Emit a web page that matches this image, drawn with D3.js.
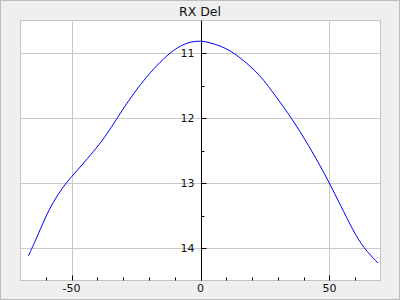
<!DOCTYPE html>
<html>
<head>
<meta charset="utf-8">
<script src="https://cdn.jsdelivr.net/npm/d3@7"></script>
<style>
  body { margin: 0; background: #ffffff; }
  svg { display: block; font-family: "DejaVu Sans", sans-serif; }
</style>
</head>
<body>
<svg></svg>
<script>
// angle (x) and RX Del (y)
const angles = [-66.7, -63.6, -60.3, -57.1, -53.5, -50, -46.1, -41.6, -37.1, -32.3, -28.0, -23.5, -17.7, -13.8, -10.6, -7.3, -4.1, 0,
                3.7, 7.6, 11.4, 15.3, 19.2, 23.1, 25.7, 32.1, 38.6, 45.1, 50, 54.1, 59.3, 63.2, 68.8];
const rxDel = [14.12, 13.85, 13.54, 13.29, 13.07, 12.9, 12.73, 12.52, 12.30, 12.0, 11.74, 11.49, 11.22, 11.07, 10.96, 10.88, 10.83, 10.81,
               10.84, 10.89, 10.96, 11.07, 11.20, 11.35, 11.48, 11.82, 12.20, 12.64, 13.0, 13.33, 13.74, 14.0, 14.23];
const xTicks = [-50, 0, 50];
const xMinorTicks = [-60, -40, -30, -20, -10, 10, 20, 30, 40, 60];
const yTicks = [11, 12, 13, 14];
const yMinorTicks = [11.5, 12.5, 13.5];
const title = "RX Del";

let width = 400;
let height = 300;
let plotLeft = 20.5, plotRight = 380.5, plotTop = 20.5, plotBottom = 280.5;

let svg = d3.select("svg").attr("width", width).attr("height", height);

svg.append("rect")
    .attr("x", 0.5).attr("y", 0.5)
    .attr("width", width - 1).attr("height", height - 1)
    .attr("fill", "#efefef")
    .attr("stroke", "#bdbdbd");

svg.append("text")
    .attr("x", 200).attr("y", 16)
    .attr("text-anchor", "middle")
    .attr("font-size", "12.5px")
    .attr("fill", "#111")
    .text(title);

svg.append("rect")
    .attr("x", plotLeft).attr("y", plotTop)
    .attr("width", plotRight - plotLeft).attr("height", plotBottom - plotTop)
    .attr("fill", "#ffffff")
    .attr("stroke", "#c4c4c4");

let xScale = d3.scaleLinear().domain([-69.8, 69.8]).range([plotLeft, plotRight]);
let yScale = d3.scaleLinear().domain([10.5, 14.5]).range([plotTop, plotBottom]);

const px = (v) => Math.round(xScale(v)) + 0.5;
const py = (v) => Math.round(yScale(v)) + 0.5;

// grid
svg.append("g").selectAll("line")
    .data(xTicks.filter((d) => d != 0))
    .enter().append("line")
    .attr("x1", px).attr("x2", px)
    .attr("y1", plotTop).attr("y2", plotBottom)
    .attr("stroke", "#c8c8c8");

svg.append("g").selectAll("line")
    .data(yTicks)
    .enter().append("line")
    .attr("x1", plotLeft).attr("x2", plotRight)
    .attr("y1", py).attr("y2", py)
    .attr("stroke", "#c8c8c8");

// bottom ticks
svg.append("g").selectAll("line")
    .data(xTicks)
    .enter().append("line")
    .attr("x1", px).attr("x2", px)
    .attr("y1", plotBottom).attr("y2", plotBottom - 5)
    .attr("stroke", "#000");

svg.append("g").selectAll("line")
    .data(xMinorTicks)
    .enter().append("line")
    .attr("x1", px).attr("x2", px)
    .attr("y1", plotBottom).attr("y2", plotBottom - 3)
    .attr("stroke", "#000");

svg.append("g").selectAll("text")
    .data(xTicks)
    .enter().append("text")
    .attr("x", (d) => xScale(d))
    .attr("y", 292)
    .attr("text-anchor", "middle")
    .attr("font-size", "11px")
    .attr("fill", "#111")
    .text((d) => d);

// y axis at x = 0
let x0 = px(0);
svg.append("line")
    .attr("x1", x0).attr("x2", x0)
    .attr("y1", plotTop).attr("y2", plotBottom)
    .attr("stroke", "#000");

svg.append("g").selectAll("line")
    .data(yTicks)
    .enter().append("line")
    .attr("x1", x0).attr("x2", x0 + 5)
    .attr("y1", py).attr("y2", py)
    .attr("stroke", "#000");

svg.append("g").selectAll("line")
    .data(yMinorTicks)
    .enter().append("line")
    .attr("x1", x0).attr("x2", x0 + 3)
    .attr("y1", py).attr("y2", py)
    .attr("stroke", "#000");

svg.append("g").selectAll("text")
    .data(yTicks)
    .enter().append("text")
    .attr("x", x0 - 7)
    .attr("y", (d) => yScale(d) + 4)
    .attr("text-anchor", "end")
    .attr("font-size", "11px")
    .attr("fill", "#111")
    .text((d) => d);

// curve
let points = angles.map((a, i) => [a, rxDel[i]]);
let line = d3.line()
    .x((d) => xScale(d[0]))
    .y((d) => yScale(d[1]))
    .curve(d3.curveBasis);

svg.append("path")
    .datum(points)
    .attr("d", line)
    .attr("fill", "none")
    .attr("stroke", "#0000ff")
    .attr("stroke-width", 1);
</script>
</body>
</html>
